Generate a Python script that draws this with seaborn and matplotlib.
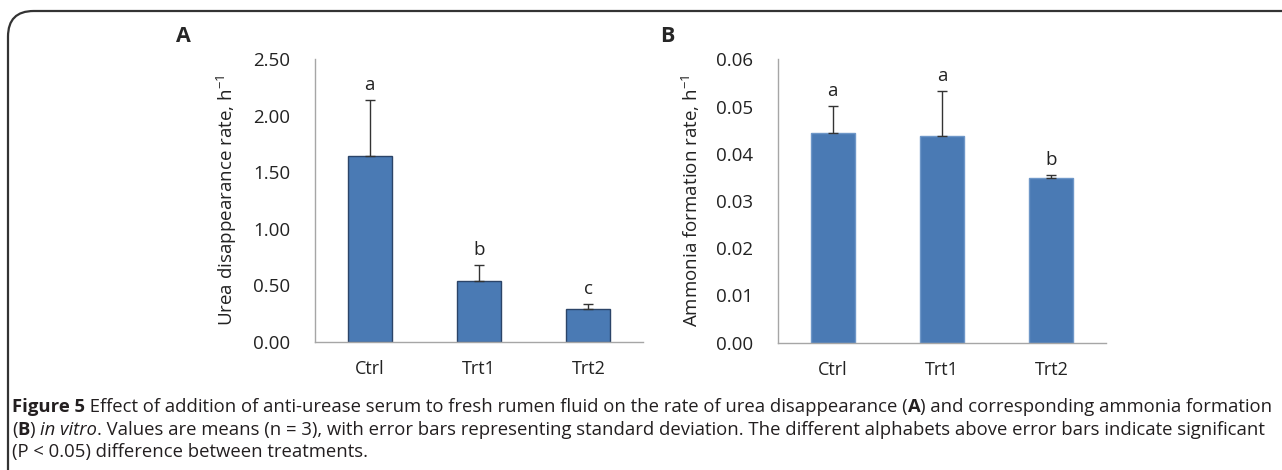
import matplotlib
matplotlib.use("Agg")
import matplotlib.pyplot as plt
import seaborn as sns
import pandas as pd
from matplotlib.patches import FancyBboxPatch

categories = ["Ctrl", "Trt1", "Trt2"]
urea_mean = [1.64, 0.535, 0.29]
urea_sd = [0.50, 0.145, 0.047]
urea_letters = ["a", "b", "c"]
ammonia_mean = [0.0445, 0.0438, 0.0349]
ammonia_sd = [0.0057, 0.0095, 0.0006]
ammonia_letters = ["a", "a", "b"]
urea_ticks = [0.0, 0.5, 1.0, 1.5, 2.0, 2.5]
ammonia_ticks = [0.0, 0.01, 0.02, 0.03, 0.04, 0.05, 0.06]

sns.set_theme(style="white")
FONT = "Open Sans"
plt.rcParams["font.family"] = [FONT, "DejaVu Sans"]
plt.rcParams["mathtext.fontset"] = "custom"
plt.rcParams["mathtext.rm"] = FONT

BAR = "#4A7AB4"
AX = "#A6A6A6"
TXT = "#222222"

fig = plt.figure(figsize=(12.82, 4.70), dpi=100)

def panel(rect, means, sds, letters, ticks, fmt, ylabel, edge, gap):
    ax = fig.add_axes(rect)
    df = pd.DataFrame({"cat": categories, "val": means})
    sns.barplot(data=df, x="cat", y="val", ax=ax, color=BAR, saturation=1,
                width=0.4, edgecolor=edge, linewidth=1.0)
    ax.errorbar(range(len(categories)), means, yerr=[[0] * len(sds), sds],
                fmt="none", ecolor="#333333", elinewidth=1.0, capsize=3.5, capthick=1.0)
    for i, (m, s, l) in enumerate(zip(means, sds, letters)):
        ax.text(i, m + s + gap, l, ha="center", va="bottom", fontsize=13.5, color=TXT)
    ax.set_xlim(-0.5, len(categories) - 0.5)
    ax.set_ylim(ticks[0], ticks[-1])
    ax.set_yticks(ticks)
    ax.set_yticklabels([fmt.format(t) for t in ticks], fontsize=13.5, color=TXT)
    ax.set_xticks([-0.5 + i for i in range(len(categories) + 1)])
    ax.set_xticklabels([])
    ax.set_xticks(range(len(categories)), minor=True)
    ax.set_xticklabels(categories, minor=True, fontsize=13, color=TXT)
    ax.tick_params(axis="x", which="major", direction="out", length=6, color=AX, width=1)
    ax.tick_params(axis="x", which="minor", length=0, pad=13)
    ax.tick_params(axis="y", direction="out", length=6, color=AX, width=1, pad=12)
    for s in ["top", "right"]:
        ax.spines[s].set_visible(False)
    for s in ["left", "bottom"]:
        ax.spines[s].set_color(AX)
        ax.spines[s].set_linewidth(1.0)
    ax.set_xlabel("")
    ax.set_ylabel(ylabel, fontsize=13.5, color=TXT, labelpad=10)
    return ax

axA = panel([315 / 1282, 1 - 342 / 470, 328 / 1282, 283 / 470], urea_mean, urea_sd,
            urea_letters, urea_ticks, "{:.2f}", "Urea disappearance rate, h$^{-1}$",
            "#2B4468", 0.05)
axB = panel([778 / 1282, 1 - 342.7 / 470, 328 / 1282, 283.4 / 470], ammonia_mean, ammonia_sd,
            ammonia_letters, ammonia_ticks, "{:.2f}", "Ammonia formation rate, h$^{-1}$",
            "#6E97C8", 0.0012)

fig.text(183 / 1282, 1 - 37 / 470, "A", fontsize=15.5, fontweight="bold", ha="center", va="center")
fig.text(667 / 1282, 1 - 36 / 470, "B", fontsize=15.5, fontweight="bold", ha="center", va="center")

# border frame
box = FancyBboxPatch((8 / 1282, -0.2), 1.2, 1 - 11 / 470 + 0.2,
                     boxstyle="round,pad=0,rounding_size=0.02", transform=fig.transFigure,
                     fill=False, edgecolor="#333333", linewidth=1.6, mutation_aspect=1282 / 470)
fig.add_artist(box)

# caption
fig.canvas.draw()
renderer = fig.canvas.get_renderer()
CAP = 13.3

def line(y, segs):
    x = 12
    for txt, style in segs:
        kw = {}
        if style == "b":
            kw["fontweight"] = "bold"
        elif style == "i":
            kw["fontstyle"] = "italic"
        t = fig.text(x / 1282, 1 - y / 470, txt, fontsize=CAP, color="#231F20",
                     ha="left", va="baseline", **kw)
        bb = t.get_window_extent(renderer)
        x = bb.x1

line(412, [("Figure 5", "b"), (" Effect of addition of anti-urease serum to fresh rumen fluid on the rate of urea disappearance (", ""),
           ("A", "b"), (") and corresponding ammonia formation", "")])
line(435, [("(", ""), ("B", "b"), (") ", ""), ("in vitro", "i"),
           (". Values are means (n = 3), with error bars representing standard deviation. The different alphabets above error bars indicate significant", "")])
line(457, [("(P < 0.05) difference between treatments.", "")])

fig.savefig("out.png", dpi=100)
